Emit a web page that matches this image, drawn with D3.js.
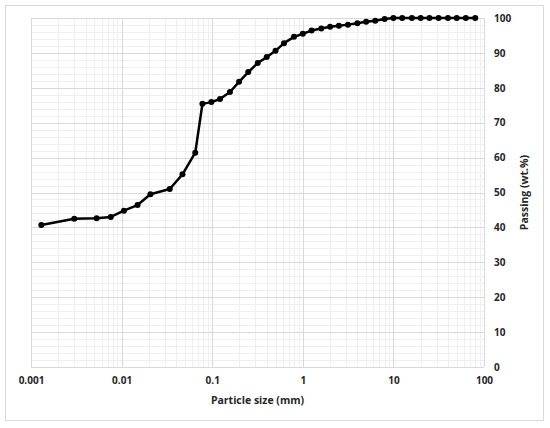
<!DOCTYPE html>
<html>
<head>
<meta charset="utf-8">
<script src="https://cdn.jsdelivr.net/npm/d3@7"></script>
<style>
html,body{margin:0;padding:0;background:#fff;}
svg{display:block;}
text{font-family:"Open Sans","Liberation Sans",sans-serif;font-weight:bold;fill:#262626;}
</style>
</head>
<body>
<svg id="chart" width="550" height="428"></svg>
<script>
// Particle size (mm)
const sizes = [0.0013, 0.003, 0.0053, 0.0076, 0.0106, 0.015, 0.0208, 0.034, 0.047, 0.065,
  0.078, 0.098, 0.122, 0.157, 0.198, 0.25, 0.318, 0.4, 0.5, 0.62, 0.8, 1.0, 1.25, 1.6, 2.0, 2.5,
  3.15, 4.0, 5.0, 6.3, 8.0, 10, 12.5, 16, 20, 25, 31.5, 40, 50, 63, 80];
// Passing (wt.%)
const passing = [40.7, 42.5, 42.6, 43.0, 44.8, 46.4, 49.5, 51.0, 55.2, 61.4,
  75.4, 75.9, 76.8, 78.8, 81.7, 84.5, 87.1, 88.8, 90.6, 92.8, 94.6, 95.5, 96.4, 97.0, 97.5, 97.8,
  98.1, 98.5, 98.9, 99.2, 99.7, 100, 100, 100, 100, 100, 100, 100, 100, 100, 100];
const xTicks = [0.001, 0.01, 0.1, 1, 10, 100];
const xTickLabels = ["0.001", "0.01", "0.1", "1", "10", "100"];
const yTicks = [0, 10, 20, 30, 40, 50, 60, 70, 80, 90, 100];
const xTitle = "Particle size (mm)";
const yTitle = "Passing (wt.%)";

const svg = d3.select("#chart");
const L = 31, R = 484, T = 18, B = 367;

svg.append("rect").attr("x", 5.5).attr("y", 5.5).attr("width", 538).attr("height", 415)
  .attr("fill", "#fff").attr("stroke", "#d9d9d9").attr("stroke-width", 1);

const x = d3.scaleLog().domain([0.001, 100]).range([L, R]);
const y = d3.scaleLinear().domain([0, 100]).range([B, T]);

const g = svg.append("g");

// minor grid
const minorX = [];
for (let e = -3; e < 2; e++) for (let k = 2; k <= 9; k++) minorX.push(k * Math.pow(10, e));
const minorY = d3.range(0, 101, 2).filter(v => v % 10 !== 0);
g.selectAll(".mx").data(minorX).enter().append("line")
  .attr("x1", d => Math.round(x(d)) + 0.5).attr("x2", d => Math.round(x(d)) + 0.5)
  .attr("y1", T).attr("y2", B).attr("stroke", "#efefef").attr("stroke-width", 1);
g.selectAll(".my").data(minorY).enter().append("line")
  .attr("y1", d => Math.round(y(d)) + 0.5).attr("y2", d => Math.round(y(d)) + 0.5)
  .attr("x1", L).attr("x2", R).attr("stroke", "#efefef").attr("stroke-width", 1);
// major grid
g.selectAll(".Mx").data(xTicks).enter().append("line")
  .attr("x1", d => Math.round(x(d)) + 0.5).attr("x2", d => Math.round(x(d)) + 0.5)
  .attr("y1", T).attr("y2", B).attr("stroke", "#d9d9d9").attr("stroke-width", 1);
g.selectAll(".My").data(yTicks).enter().append("line")
  .attr("y1", d => Math.round(y(d)) + 0.5).attr("y2", d => Math.round(y(d)) + 0.5)
  .attr("x1", L).attr("x2", R).attr("stroke", "#d9d9d9").attr("stroke-width", 1);

// axes (labels only)
const xAxis = d3.axisBottom(x).tickValues(xTicks).tickFormat((d, i) => xTickLabels[i]).tickSize(0).tickPadding(10);
const xg = svg.append("g").attr("transform", `translate(0,${B})`).call(xAxis);
xg.select(".domain").remove();
xg.selectAll("text").attr("font-size", 10).attr("fill", "#262626").style("font-family", "'Open Sans',sans-serif").style("font-weight", "bold");

const yAxis = d3.axisRight(y).tickValues(yTicks).tickSize(0).tickPadding(10);
const yg = svg.append("g").attr("transform", `translate(${R},0)`).call(yAxis);
yg.select(".domain").remove();
yg.selectAll("text").attr("font-size", 10).attr("fill", "#262626").style("font-family", "'Open Sans',sans-serif").style("font-weight", "bold");

// titles
svg.append("text").attr("x", (L + R) / 2).attr("y", 404).attr("text-anchor", "middle")
  .attr("font-size", 10.5).text(xTitle);
svg.append("text").attr("transform", `translate(528,${(T + B) / 2}) rotate(-90)`)
  .attr("text-anchor", "middle").attr("font-size", 10.5).text(yTitle);

// data
const data = sizes.map((s, i) => ({ s, p: passing[i] }));
const line = d3.line().x(d => x(d.s)).y(d => y(d.p));
svg.append("path").datum(data).attr("d", line).attr("fill", "none")
  .attr("stroke", "#000").attr("stroke-width", 2.5).attr("stroke-linejoin", "round");
svg.selectAll(".pt").data(data).enter().append("circle")
  .attr("cx", d => x(d.s)).attr("cy", d => y(d.p)).attr("r", 3).attr("fill", "#000");
</script>
</body>
</html>
